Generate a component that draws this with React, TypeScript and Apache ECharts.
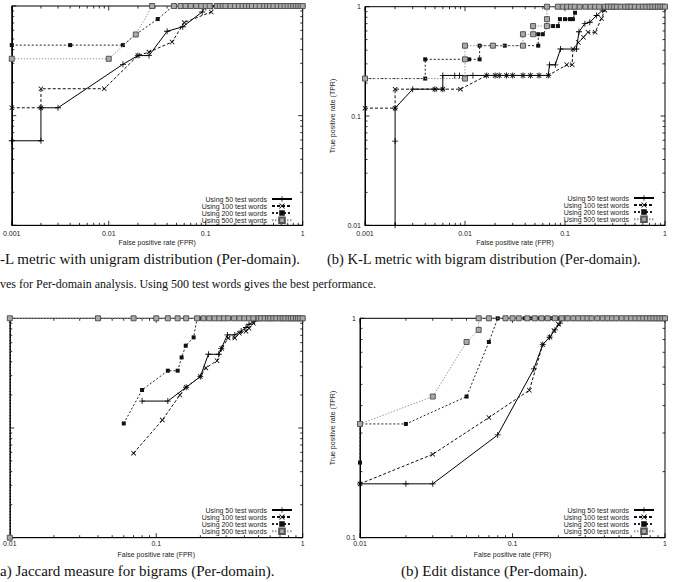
import React, { useEffect, useRef } from "react";
import * as echarts from "echarts";

const SERIES_NAMES = [
  "Using 50 test words",
  "Using 100 test words",
  "Using 200 test words",
  "Using 500 test words",
];
const X_NAME = "False positive rate (FPR)";
const Y_NAME = "True positive rate (TPR)";

// (a) K-L metric, unigram distribution  [FPR, TPR]
const klUni50 = [[0.001, 0.059], [0.002, 0.059], [0.002, 0.118], [0.003, 0.118], [0.014, 0.294], [0.02, 0.353], [0.026, 0.353], [0.04, 0.588], [0.058, 0.647], [0.092, 0.882], [0.1, 1], [0.11, 1]];
const klUni100 = [[0.001, 0.118], [0.002, 0.118], [0.002, 0.176], [0.009, 0.176], [0.02, 0.353], [0.026, 0.38], [0.045, 0.47], [0.06, 0.706], [0.114, 0.882], [0.12, 1]];
const klUni200 = [[0.001, 0.44], [0.004, 0.44], [0.014, 0.44], [0.019, 0.55], [0.032, 0.76], [0.046, 1], [0.056, 1], [0.066, 1], [0.075, 1], [0.085, 1], [0.1, 1], [0.11, 1]];
const klUni500 = [[0.001, 0.33], [0.01, 0.33], [0.019, 0.55], [0.028, 1], [0.047, 1], [0.055, 1], [0.062, 1], [0.07, 1], [0.08, 1], [0.09, 1], [0.1, 1], [0.11, 1]];
const klUniTop = [0.13, 0.14, 0.15, 0.16, 0.18, 0.2, 0.22, 0.24, 0.26, 0.28, 0.3, 0.33, 0.36, 0.4, 0.43, 0.46, 0.5, 0.55, 0.6, 0.65, 0.7, 0.75, 0.8, 0.85, 0.9, 0.95, 1];

// (b) K-L metric, bigram distribution
const klBi50 = [[0.002, 0.01], [0.002, 0.059], [0.002, 0.118], [0.003, 0.176], [0.005, 0.176], [0.006, 0.176], [0.006, 0.235], [0.0079, 0.235], [0.0088, 0.235], [0.012, 0.235], [0.0165, 0.235], [0.02, 0.235], [0.022, 0.235], [0.026, 0.235], [0.03, 0.235], [0.038, 0.235], [0.045, 0.235], [0.055, 0.235], [0.068, 0.235], [0.07, 0.294], [0.08, 0.294], [0.09, 0.41], [0.13, 0.41], [0.138, 0.59], [0.158, 0.7], [0.177, 0.72], [0.207, 0.83], [0.238, 0.93], [0.254, 1]];
const klBi100 = [[0.001, 0.118], [0.002, 0.118], [0.002, 0.176], [0.005, 0.176], [0.006, 0.176], [0.009, 0.176], [0.0165, 0.235], [0.02, 0.235], [0.022, 0.235], [0.026, 0.235], [0.03, 0.235], [0.038, 0.235], [0.045, 0.235], [0.055, 0.235], [0.068, 0.235], [0.104, 0.294], [0.118, 0.294], [0.12, 0.41], [0.136, 0.47], [0.153, 0.525], [0.17, 0.583], [0.2, 0.583], [0.232, 0.78], [0.25, 0.93], [0.26, 1]];
const klBi200 = [[0.001, 0.22], [0.004, 0.22], [0.004, 0.33], [0.01, 0.33], [0.011, 0.33], [0.014, 0.33], [0.014, 0.44], [0.019, 0.44], [0.025, 0.44], [0.038, 0.44], [0.054, 0.44], [0.054, 0.56], [0.06, 0.56], [0.068, 0.665], [0.076, 0.665], [0.085, 0.665], [0.089, 0.77], [0.1, 0.77], [0.112, 0.77], [0.12, 0.77], [0.126, 0.88], [0.13, 1], [0.14, 1], [0.15, 1], [0.16, 1], [0.18, 1], [0.2, 1], [0.22, 1], [0.25, 1]];
const klBi500 = [[0.001, 0.22], [0.01, 0.22], [0.01, 0.33], [0.01, 0.44], [0.019, 0.44], [0.038, 0.44], [0.038, 0.56], [0.048, 0.56], [0.048, 0.665], [0.066, 0.665], [0.066, 0.77], [0.066, 1], [0.085, 1], [0.095, 1], [0.105, 1], [0.115, 1], [0.125, 1], [0.14, 1], [0.16, 1], [0.18, 1], [0.2, 1], [0.22, 1], [0.25, 1]];
const klBiTop = [0.27, 0.29, 0.31, 0.33, 0.36, 0.4, 0.43, 0.46, 0.5, 0.55, 0.6, 0.65, 0.7, 0.75, 0.8, 0.85, 0.9, 0.95, 1];

// (a) Jaccard measure for bigrams
const jac50 = [[0.08, 0.176], [0.12, 0.176], [0.16, 0.235], [0.2, 0.294], [0.227, 0.47], [0.267, 0.47], [0.278, 0.53], [0.306, 0.706], [0.344, 0.706], [0.38, 0.765], [0.41, 0.824], [0.43, 0.882], [0.47, 0.941], [0.48, 1]];
const jac100 = [[0.07, 0.059], [0.11, 0.118], [0.145, 0.2], [0.16, 0.235], [0.2, 0.294], [0.218, 0.353], [0.26, 0.41], [0.28, 0.53], [0.31, 0.66], [0.344, 0.66], [0.37, 0.73], [0.41, 0.76], [0.43, 0.81], [0.46, 0.9], [0.48, 1]];
const jac200 = [[0.06, 0.11], [0.08, 0.222], [0.12, 0.333], [0.14, 0.333], [0.149, 0.44], [0.159, 0.563], [0.18, 0.67], [0.19, 1], [0.2, 1], [0.22, 1], [0.24, 1], [0.26, 1], [0.28, 1], [0.3, 1], [0.32, 1], [0.35, 1], [0.38, 1], [0.41, 1], [0.44, 1], [0.47, 1]];
const jac500 = [[0.01, 0.01], [0.01, 1], [0.04, 1], [0.07, 1], [0.1, 1], [0.12, 1], [0.14, 1], [0.16, 1], [0.19, 1], [0.21, 1], [0.23, 1], [0.25, 1], [0.27, 1], [0.29, 1], [0.31, 1], [0.34, 1], [0.37, 1], [0.4, 1], [0.43, 1], [0.46, 1]];
const jacTop = [0.5, 0.52, 0.55, 0.58, 0.6, 0.63, 0.66, 0.7, 0.73, 0.76, 0.8, 0.83, 0.86, 0.9, 0.93, 0.96, 1];

// (b) Edit distance
const edit50 = [[0.01, 0.176], [0.02, 0.176], [0.03, 0.176], [0.08, 0.294], [0.138, 0.588], [0.158, 0.76], [0.175, 0.82], [0.19, 0.885], [0.205, 0.95], [0.22, 1]];
const edit100 = [[0.01, 0.176], [0.03, 0.24], [0.07, 0.353], [0.129, 0.47], [0.158, 0.76], [0.176, 0.82], [0.187, 0.88], [0.2, 0.94], [0.21, 1]];
const edit200 = [[0.01, 0.22], [0.01, 0.33], [0.02, 0.33], [0.05, 0.44], [0.07, 0.78], [0.08, 1], [0.09, 1], [0.1, 1], [0.11, 1], [0.12, 1], [0.13, 1], [0.14, 1], [0.15, 1], [0.16, 1], [0.17, 1], [0.18, 1], [0.19, 1], [0.2, 1], [0.21, 1]];
const edit500 = [[0.01, 0.33], [0.03, 0.44], [0.05, 0.78], [0.06, 0.885], [0.06, 1], [0.07, 1], [0.09, 1], [0.1, 1], [0.11, 1], [0.125, 1], [0.14, 1], [0.155, 1], [0.17, 1], [0.19, 1], [0.21, 1]];
const editTop = [0.23, 0.25, 0.27, 0.29, 0.31, 0.33, 0.36, 0.39, 0.42, 0.45, 0.48, 0.52, 0.56, 0.6, 0.64, 0.68, 0.72, 0.76, 0.8, 0.84, 0.88, 0.92, 0.96, 1];

const captionA1 = "-L metric with unigram distribution (Per-domain).";
const captionB1 = "(b) K-L metric with bigram distribution (Per-domain).";
const captionFig = "ves for Per-domain analysis. Using 500 test words gives the best performance.";
const captionA2 = "a) Jaccard measure for bigrams (Per-domain).";
const captionB2 = "(b) Edit distance (Per-domain).";

const SANS = "Liberation Sans, Arial, sans-serif";
const SERIF = "Liberation Serif, Times New Roman, serif";

const PLUS = "path://M0,4.3H10V5.7H0ZM4.3,0H5.7V10H4.3Z";
const CROSS = "path://M1.1,0L10,8.9L8.9,10L0,1.1ZM8.9,0L10,1.1L1.1,10L0,8.9Z";

const SERIES_STYLE = [
  { symbol: PLUS, symbolSize: 6, color: "#000", line: { color: "#000", width: 1, type: "solid" as any }, border: 0, borderColor: "#000" },
  { symbol: CROSS, symbolSize: 5, color: "#000", line: { color: "#111", width: 1, type: [3, 2] as any }, border: 0, borderColor: "#000" },
  { symbol: "rect", symbolSize: 4, color: "#111", line: { color: "#222", width: 1, type: [2, 2] as any }, border: 0, borderColor: "#000" },
  { symbol: "rect", symbolSize: 5, color: "#aaa", line: { color: "#999", width: 1, type: [1.5, 1.5] as any }, border: 1, borderColor: "#555" },
];

const PANELS = [
  { grid: { left: 2.7, top: 6, width: 300, height: 219.3 }, xMin: 0.001, xMax: 1, yMin: 0.01, yMax: 1, yLabels: false, series: [klUni50, klUni100, klUni200, klUni500], top: klUniTop, legend: { right: 386, top: 195.5 }, labelMargin: 4.5, nameGap: 14, yNameGap: 0 },
  { grid: { left: 365, top: 6.7, width: 300, height: 218.6 }, xMin: 0.001, xMax: 1, yMin: 0.01, yMax: 1, yLabels: true, series: [klBi50, klBi100, klBi200, klBi500], top: klBiTop, legend: { right: 24, top: 194.5 }, labelMargin: 4.5, nameGap: 14, yNameGap: 29.5 },
  { grid: { left: 2.7, top: 318.3, width: 300, height: 219.4 }, xMin: 0.01, xMax: 1, yMin: 0.01, yMax: 1, yLabels: false, series: [jac50, jac100, jac200, jac500], top: jacTop, legend: { right: 386, top: 506.5 }, labelMargin: 2.5, nameGap: 13, yNameGap: 0 },
  { grid: { left: 360, top: 318.3, width: 305, height: 219.4 }, xMin: 0.01, xMax: 1, yMin: 0.1, yMax: 1, yLabels: true, series: [edit50, edit100, edit200, edit500], top: editTop, legend: { right: 24, top: 506.5 }, labelMargin: 2.5, nameGap: 13, yNameGap: 24.5 },
];

function decadeTicks(min: number, max: number) {
  const major: number[] = [];
  const minor: number[] = [];
  for (let d = min; d < max * 1.001; d *= 10) {
    const dd = +d.toPrecision(3);
    major.push(dd);
    if (dd < max * 0.999) {
      for (let m = 2; m <= 9; m++) minor.push(+(m * dd).toPrecision(3));
    }
  }
  return { major, minor };
}

const fmt = (v: number) => String(+Number(v).toPrecision(3));

function buildOption() {
  const grids: any[] = [];
  const xAxes: any[] = [];
  const yAxes: any[] = [];
  const series: any[] = [];
  const legends: any[] = [];

  PANELS.forEach((p, gi) => {
    grids.push({ ...p.grid, show: true, borderColor: "#000", borderWidth: 1, backgroundColor: "#fff", containLabel: false });
    xAxes.push({
      type: "log", logBase: 10, gridIndex: gi, min: p.xMin, max: p.xMax,
      name: X_NAME, nameLocation: "middle", nameGap: p.nameGap,
      nameTextStyle: { fontSize: 7, fontFamily: SANS, color: "#222" },
      axisLine: { show: true, lineStyle: { color: "#000", width: 1 } },
      axisTick: { show: false }, splitLine: { show: false },
      axisLabel: { fontSize: 7, fontFamily: SANS, color: "#222", margin: p.labelMargin, formatter: fmt, showMinLabel: true, showMaxLabel: true, hideOverlap: false },
    });
    yAxes.push({
      type: "log", logBase: 10, gridIndex: gi, min: p.yMin, max: p.yMax,
      name: p.yLabels ? Y_NAME : "", nameLocation: "middle", nameGap: p.yNameGap,
      nameTextStyle: { fontSize: 7, fontFamily: SANS, color: "#222" },
      axisLine: { show: true, lineStyle: { color: "#000", width: 1 } },
      axisTick: { show: false }, splitLine: { show: false },
      axisLabel: { show: p.yLabels, fontSize: 7, fontFamily: SANS, color: "#222", margin: 4, formatter: fmt, showMinLabel: true, showMaxLabel: true },
    });

    p.series.forEach((pts, k) => {
      const st = SERIES_STYLE[k];
      const data = pts.concat(p.top.map((x) => [x, 1]));
      series.push({
        type: "line", name: SERIES_NAMES[k], xAxisIndex: gi, yAxisIndex: gi,
        data, symbol: st.symbol, symbolSize: st.symbolSize, showSymbol: true,
        clip: false, z: 3 + k,
        lineStyle: { ...st.line },
        itemStyle: { color: st.color, borderWidth: st.border, borderColor: st.borderColor },
        emphasis: { disabled: true },
      });
    });

    const xt = decadeTicks(p.xMin, p.xMax);
    const yt = decadeTicks(p.yMin, p.yMax);
    const tickData: number[][] = [];
    xt.major.forEach((v) => tickData.push([v, p.yMin, 0]));
    xt.minor.forEach((v) => tickData.push([v, p.yMin, 1]));
    yt.major.forEach((v) => tickData.push([p.xMin, v, 2]));
    yt.minor.forEach((v) => tickData.push([p.xMin, v, 3]));
    series.push({
      type: "custom", xAxisIndex: gi, yAxisIndex: gi, silent: true, z: 2,
      data: tickData,
      renderItem: (params: any, api: any) => {
        const x = api.value(0);
        const y = api.value(1);
        const kind = api.value(2);
        const st = { stroke: "#000", lineWidth: 0.8 };
        if (kind < 2) {
          const a = api.coord([x, p.yMin]);
          const b = api.coord([x, p.yMax]);
          const L = kind === 0 ? 4.5 : 2.5;
          return {
            type: "group",
            children: [
              { type: "line", shape: { x1: a[0], y1: a[1], x2: a[0], y2: a[1] - L }, style: st },
              { type: "line", shape: { x1: b[0], y1: b[1], x2: b[0], y2: b[1] + L }, style: st },
            ],
          };
        }
        const a = api.coord([p.xMin, y]);
        const b = api.coord([p.xMax, y]);
        const L = kind === 2 ? 4.5 : 2.5;
        return {
          type: "group",
          children: [
            { type: "line", shape: { x1: a[0], y1: a[1], x2: a[0] + L, y2: a[1] }, style: st },
            { type: "line", shape: { x1: b[0], y1: b[1], x2: b[0] - L, y2: b[1] }, style: st },
          ],
        };
      },
    });

    legends.push({
      data: SERIES_NAMES, orient: "vertical", align: "right",
      right: p.legend.right, top: p.legend.top,
      itemWidth: 20, itemHeight: 7, itemGap: 0, padding: 0,
      selectedMode: false,
      textStyle: { fontSize: 7, fontFamily: SANS, color: "#222", padding: 0, lineHeight: 7 },
    });
  });

  const capStyle = (size: number) => ({ fontSize: size, fontFamily: SERIF, fill: "#111", verticalAlign: "middle", align: "left" });

  return {
    animation: false,
    backgroundColor: "#fff",
    grid: grids,
    xAxis: xAxes,
    yAxis: yAxes,
    legend: legends,
    series,
    graphic: [
      { type: "text", x: 0, y: 259, style: { text: captionA1, ...capStyle(15) } },
      { type: "text", x: 327, y: 259, style: { text: captionB1, ...capStyle(14.5) } },
      { type: "text", x: 0, y: 284, style: { text: captionFig, ...capStyle(12) } },
      { type: "text", x: 0, y: 570.5, style: { text: captionA2, ...capStyle(15) } },
      { type: "text", x: 401, y: 570.5, style: { text: captionB2, ...capStyle(15) } },
    ],
  };
}

export default function App() {
  const ref = useRef<HTMLDivElement>(null);
  useEffect(() => {
    if (!ref.current) return;
    const chart = echarts.init(ref.current, undefined, { renderer: "svg" });
    chart.setOption(buildOption() as any);
    return () => chart.dispose();
  }, []);
  return (
    <div
      ref={ref}
      style={{ position: "fixed", left: 0, top: 0, width: 679, height: 582, background: "#fff" }}
    />
  );
}
